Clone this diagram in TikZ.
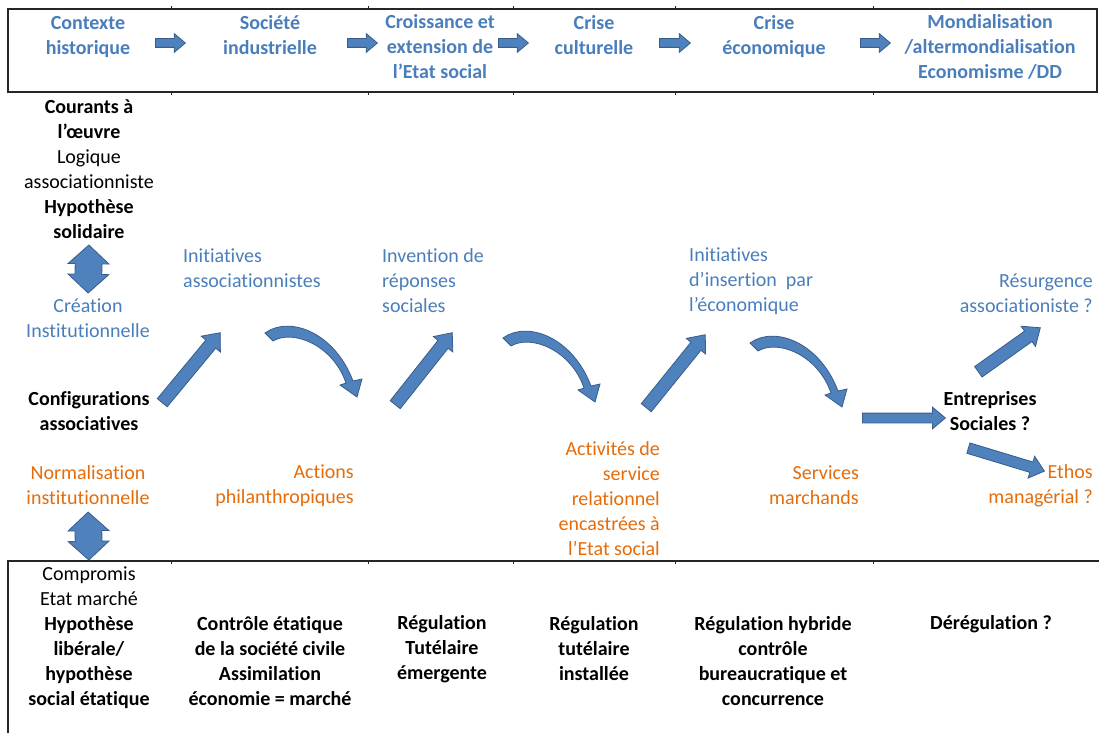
\documentclass[tikz,border=0pt]{standalone}
\usepackage{fontspec}
\setmainfont{Carlito}[Ligatures=NoCommon]
\usetikzlibrary{calc}
\usetikzlibrary{shapes}
\usetikzlibrary{positioning}
\definecolor{textblue}{RGB}{74,126,187}
\definecolor{textorange}{RGB}{228,108,10}
\definecolor{arrowfill}{RGB}{79,129,189}
\definecolor{arrowline}{RGB}{56,93,138}
\tikzset{txt/.style={inner sep=0pt, font=\fontsize{20}{25}\selectfont}}
\tikzset{boldtxt/.style={txt, font=\fontsize{20}{25}\selectfont\bfseries, align=center}}
\tikzset{period/.style={boldtxt, text=textblue}}
\tikzset{current/.style={txt, text=textblue}}
\tikzset{outcome/.style={txt, text=textorange, align=right, anchor=east}}
\tikzset{boxline/.style={draw=black!85, line width=1.3pt}}
\tikzset{tick/.style={draw=black!85, line width=0.8pt}}
\tikzset{fat/.style={single arrow, draw=arrowline, fill=arrowfill, line width=0.8pt, inner xsep=0pt, inner ysep=6pt, single arrow head extend=6pt, single arrow tip angle=80, minimum width=0pt}}
\tikzset{fatsmall/.style={inner ysep=4pt, single arrow head extend=5pt}}
\tikzset{dbl/.style={double arrow, draw=arrowline, fill=arrowfill, line width=0.8pt, inner xsep=0pt, inner ysep=13pt, double arrow head extend=7pt, double arrow tip angle=95, minimum height=48pt, minimum width=0pt}}
\tikzset{bend arrow/.pic={\filldraw[draw=arrowline, fill=arrowfill, line width=0.8pt] (0,0) .. controls (25,-18) and (70,0) .. (88,48) -- (97,46) -- (92,64) -- (75,52) -- (81,50) .. controls (68,12) and (28,-4) .. (8,8) -- cycle;}}
\newcommand{\fatarrow}[3][]{\path let \p1=($(#3)-(#2)$), \n1={veclen(\x1,\y1)} in (#2) -- node[fat, pos=0, anchor=tail, sloped, allow upside down, minimum height=\n1, #1] {} (#3);}

\begin{document}
\begin{tikzpicture}[x=1pt,y=-1pt]
\useasboundingbox (0,0) rectangle (1099,733);

%frames
\draw[boxline] (8,9) rectangle (1097,92);
\draw[boxline] (8,733) -- (8,561) -- (1099,561);
\foreach \x in {171,368,513,675,873}{
  \draw[tick] (\x,6) -- (\x,9);
  \draw[tick] (\x,92) -- (\x,95);
  \draw[tick] (\x,561) -- (\x,564);
}

%periods
\node[period] (ctx) at (88,37) {Contexte\\historique};
\node[period] (soc) at (270,35.5) {Société\\industrielle};
\node[period] (croiss) at (440,47) {Croissance et\\extension de\\l’Etat social};
\node[period] (cult) at (594,35) {Crise\\culturelle};
\node[period] (eco) at (774,36.5) {Crise\\économique};
\node[period] (mond) at (990,47) {Mondialisation\\/altermondialisation\\Economisme /DD};
\foreach \a/\b [count=\i] in {155/185, 347/377, 498/528, 659/690, 860/890}{
  \coordinate (ts\i) at (\a,43);
  \coordinate (te\i) at (\b,43);
  \fatarrow[fatsmall]{ts\i}{te\i}
}

%left column
\node[txt, align=center] (cour) at (89,169.5) {\textbf{Courants à}\\\textbf{l’œuvre}\\Logique\\associationniste\\\textbf{Hypothèse}\\\textbf{solidaire}};
\node[current, align=center] (crea) at (88,318.5) {Création\\Institutionnelle};
\node[boldtxt] (config) at (89,411) {Configurations\\associatives};
\node[outcome, anchor=center, align=center] (norm) at (88,485.5) {Normalisation\\institutionnelle};
\node[txt, align=center] (comp) at (89,638) {Compromis\\Etat marché\\\textbf{Hypothèse}\\\textbf{libérale/}\\\textbf{hypothèse}\\\textbf{social étatique}};
\path (cour.south) -- node[dbl, sloped, allow upside down] {} (crea.north);
\path (norm.south) -- node[dbl, sloped, allow upside down] {} (comp.north);

%initiatives
\node[current, align=left, anchor=west] (initassoc) at (183,268.5) {Initiatives\\associationnistes};
\node[current, align=left, anchor=west] (invent) at (382,281) {Invention de\\réponses\\sociales};
\node[current, align=left, anchor=west] (insert) at (689,281) {Initiatives\\d’insertion~ par\\l’économique};
\node[current, align=right, anchor=east] (resurg) at (1093,293.5) {Résurgence\\associationiste ?};
\node[boldtxt] (entrep) at (990,411) {Entreprises\\Sociales ?};

%outcomes
\node[outcome] (phil) at (354,485.5) {Actions\\philanthropiques};
\node[outcome] (activ) at (660,498.5) {Activités de\\service\\relationnel\\encastrées à\\l’Etat social};
\node[outcome] (march) at (859,485.5) {Services\\marchands};
\node[outcome] (ethos) at (1093,485.5) {Ethos\\managérial ?};

%regulation
\node[boldtxt] (ctrl) at (270,661.5) {Contrôle étatique\\de la société civile\\Assimilation\\économie = marché};
\node[boldtxt] (regtut) at (442,649) {Régulation\\Tutélaire\\émergente};
\node[boldtxt] (reginst) at (594,649) {Régulation\\tutélaire\\installée};
\node[boldtxt] (reghyb) at (773,661.5) {Régulation hybride\\contrôle\\bureaucratique et\\concurrence};
\node[boldtxt] (dereg) at (991,624) {Dérégulation ?};

%arrows
\coordinate (a1s) at (162,403); \coordinate (a1e) at (220,333);
\coordinate (a2s) at (395,405); \coordinate (a2e) at (452,333);
\coordinate (a3s) at (646,408); \coordinate (a3e) at (705,335);
\coordinate (a4s) at (862,418); \coordinate (a4e) at (945,418);
\coordinate (a5s) at (978,372); \coordinate (a5e) at (1040,328);
\coordinate (a6s) at (968,448); \coordinate (a6e) at (1044,471);
\fatarrow{a1s}{a1e}
\fatarrow{a2s}{a2e}
\fatarrow{a3s}{a3e}
\fatarrow[inner ysep=4.5pt]{a4s}{a4e}
\fatarrow{a5s}{a5e}
\fatarrow[inner ysep=5pt]{a6s}{a6e}
\coordinate (c1) at (265,333);
\coordinate (c2) at (503,338);
\coordinate (c3) at (750,343);
\pic at (c1) {bend arrow};
\pic at (c2) {bend arrow};
\pic at (c3) {bend arrow};

\end{tikzpicture}
\end{document}
